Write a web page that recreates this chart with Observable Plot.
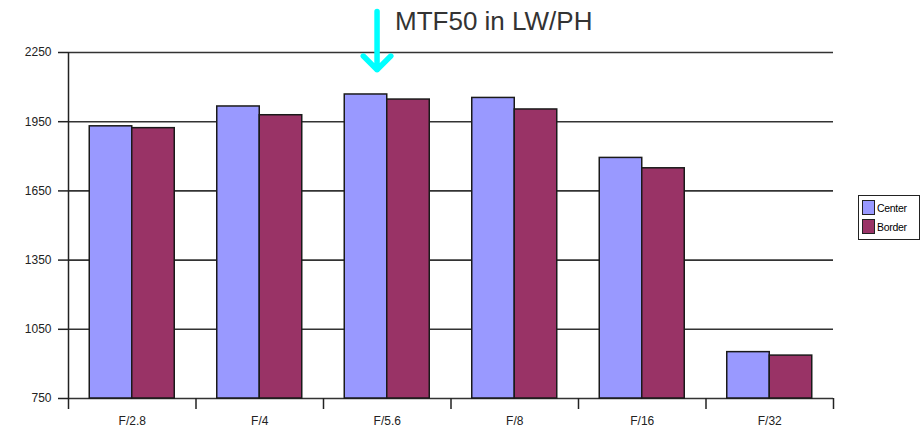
<!DOCTYPE html>
<html>
<head>
<meta charset="utf-8">
<script src="https://cdn.jsdelivr.net/npm/d3@7"></script>
<script src="https://cdn.jsdelivr.net/npm/@observablehq/plot@0.6"></script>
<style>
  html, body { margin: 0; padding: 0; background: #fff; }
  #wrap { position: relative; width: 924px; height: 431px; overflow: hidden; font-family: "Liberation Sans", Arial, sans-serif; }
  #title { position: absolute; left: 395px; top: 8px; font-size: 26px; line-height: 26px; color: #333; white-space: nowrap; }
  #legend { position: absolute; left: 858px; top: 195px; width: 62px; height: 45px; border: 1px solid #222; box-sizing: border-box; font-size: 10.5px; }
  .item { position: absolute; left: 3px; height: 15px; display: flex; align-items: center; letter-spacing: -0.3px; }
  .sw { width: 13px; height: 15px; border: 1px solid #222; box-sizing: border-box; margin-right: 2px; }
</style>
</head>
<body>
<div id="wrap">
  <div id="chart"></div>
  <div id="title">MTF50 in LW/PH</div>
  <div id="legend"></div>
</div>
<script>
const categories = ["F/2.8", "F/4", "F/5.6", "F/8", "F/16", "F/32"];
const series = ["Center", "Border"];
const centerValues = [1930, 2016, 2068, 2053, 1793, 951];
const borderValues = [1922, 1978, 2046, 2003, 1748, 936];
const yTicks = [750, 1050, 1350, 1650, 1950, 2250];
const colors = ["#9999ff", "#993366"];
// annotation arrow pointing at the F/5.6 group (x in category units, y in LW/PH)
const arrowNote = [{x: 2.42, y1: 2428, y2: 2175}];

const rows = [];
categories.forEach((c, i) => {
  [centerValues, borderValues].forEach((vals, s) => {
    rows.push({i, s, series: series[s], value: vals[i]});
  });
});

const chart = Plot.plot({
  width: 924,
  height: 431,
  marginLeft: 68,
  marginRight: 91,
  marginTop: 52,
  marginBottom: 33,
  style: {fontFamily: "'Liberation Sans', Arial, sans-serif", color: "#222", background: "#fff"},
  x: {type: "linear", domain: [0, categories.length]},
  y: {domain: [750, 2250]},
  color: {domain: series, range: colors},
  marks: [
    Plot.ruleY(yTicks, {stroke: "#333", strokeWidth: 1.6}),
    Plot.rectY(rows, {
      x1: d => d.i + 1/6 + d.s / 3,
      x2: d => d.i + 1/6 + (d.s + 1) / 3,
      y1: 750,
      y2: "value",
      fill: "series",
      stroke: "#1a1a1a",
      strokeWidth: 1.5
    }),
    Plot.ruleX([0], {stroke: "#222", strokeWidth: 1.5}),
    Plot.axisY({ticks: yTicks, tickSize: 10, tickPadding: 7, fontSize: 12, tickFormat: d => String(d), stroke: "#222", strokeWidth: 1.5, label: null, style: {letterSpacing: "-0.9px"}}),
    Plot.axisX({ticks: d3.range(categories.length + 1), tickSize: 11, tickFormat: () => "", stroke: "#222", strokeWidth: 1.5, label: null}),
    Plot.axisX({ticks: categories.map((c, i) => i + 0.5), tickSize: 0, tickPadding: 18, fontSize: 12, tickFormat: v => categories[Math.floor(v)], label: null, style: {letterSpacing: "-0.7px"}}),
    Plot.arrow(arrowNote, {x: "x", y1: "y1", y2: "y2", stroke: "#00ffff", strokeWidth: 5.5, headLength: 18, headAngle: 90})
  ]
});
document.getElementById("chart").appendChild(chart);

const legend = document.getElementById("legend");
series.forEach((s, k) => {
  const it = document.createElement("div");
  it.className = "item";
  it.style.top = (4 + k * 19) + "px";
  it.innerHTML = `<span class="sw" style="background:${colors[k]}"></span><span>${s}</span>`;
  legend.appendChild(it);
});
</script>
</body>
</html>
